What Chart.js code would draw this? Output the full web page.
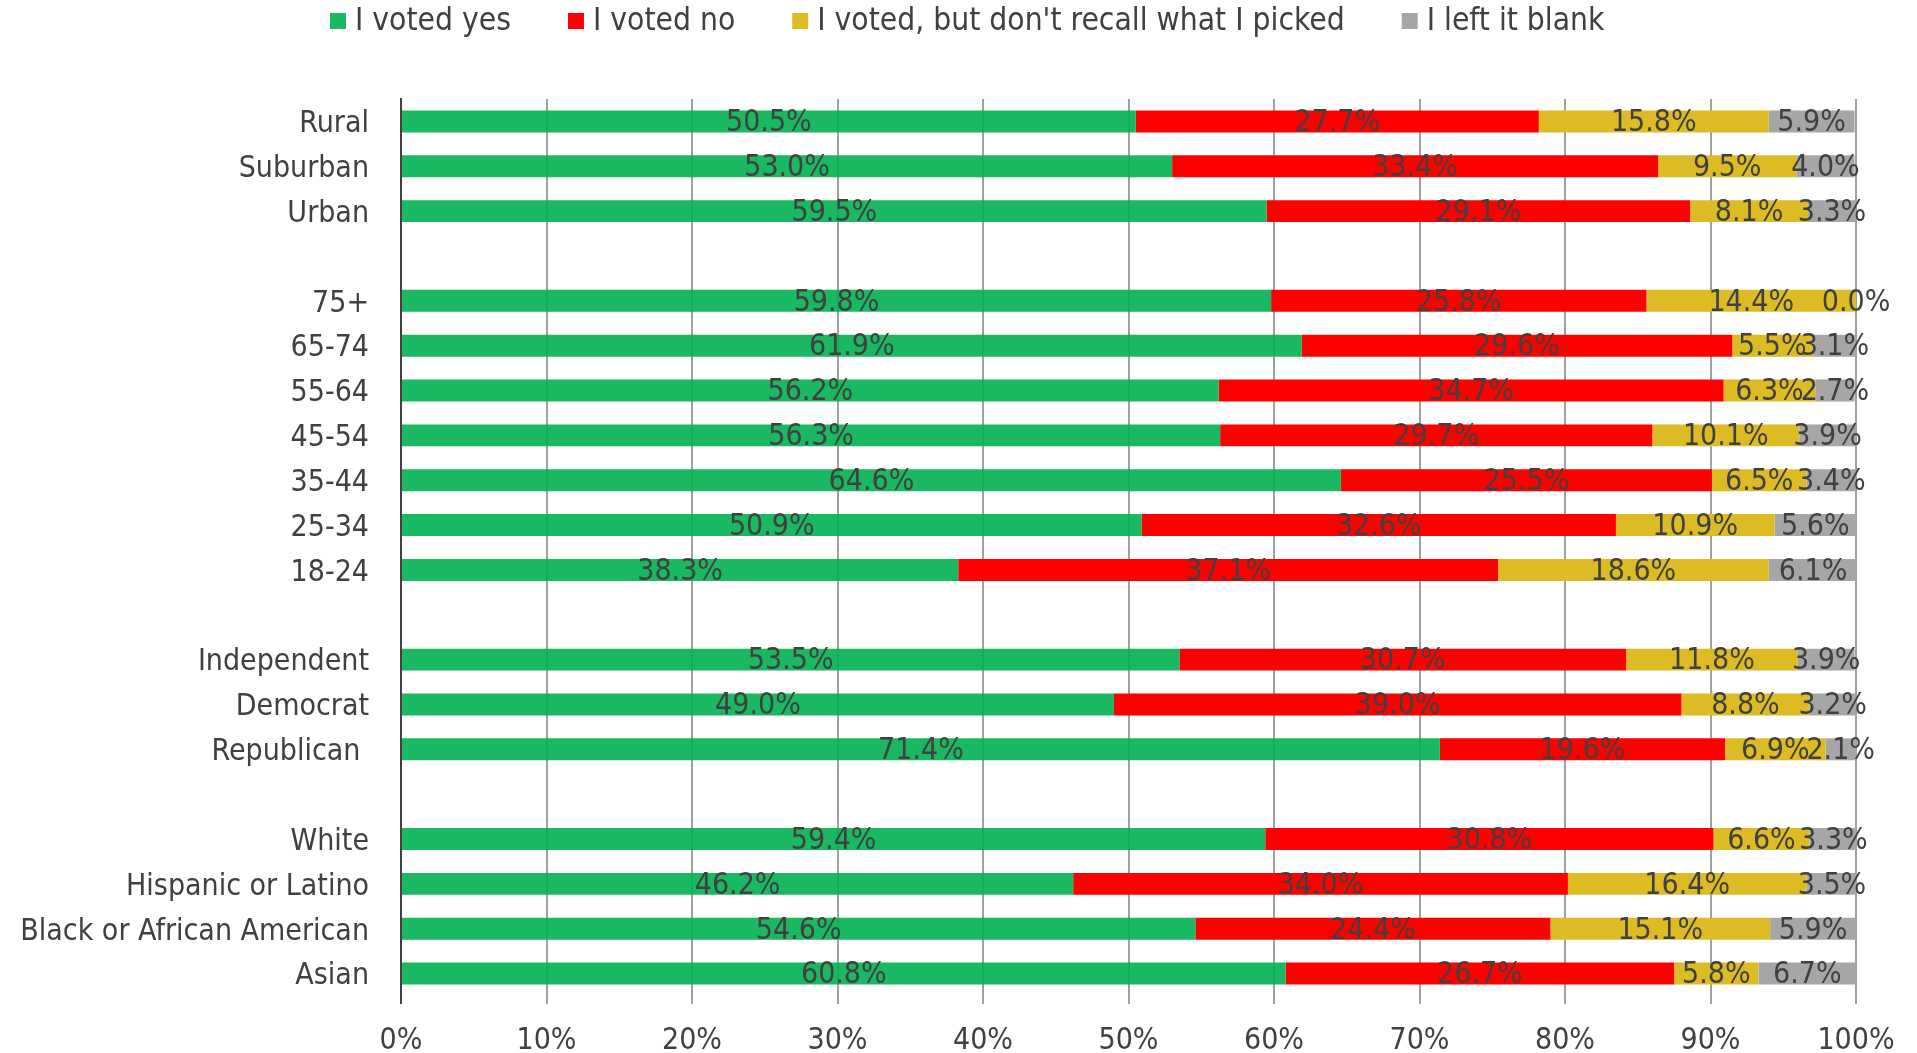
<!DOCTYPE html>
<html>
  <head>
    <meta charset="utf-8" />
    <script src="https://cdn.jsdelivr.net/npm/chart.js@4.4.1/dist/chart.umd.min.js"></script>
    <style>
      html, body { margin: 0; padding: 0; background: white; }
      #wrap { width: 1917px; height: 1053px; }
    </style>
  </head>
  <body>
    <div id="wrap"><canvas id="chart"></canvas></div>
    <script>
      // rows top to bottom, "" rows are the gaps between groups
      const categories = [
        "Rural", "Suburban", "Urban", "",
        "75+", "65-74", "55-64", "45-54", "35-44", "25-34", "18-24", "",
        "Independent", "Democrat", "Republican ", "",
        "White", "Hispanic or Latino", "Black or African American", "Asian"
      ];
      const votedYes = [50.5, 53.0, 59.5, null, 59.8, 61.9, 56.2, 56.3, 64.6, 50.9, 38.3, null, 53.5, 49.0, 71.4, null, 59.4, 46.2, 54.6, 60.8];
      const votedNo = [27.7, 33.4, 29.1, null, 25.8, 29.6, 34.7, 29.7, 25.5, 32.6, 37.1, null, 30.7, 39.0, 19.6, null, 30.8, 34.0, 24.4, 26.7];
      const dontRecall = [15.8, 9.5, 8.1, null, 14.4, 5.5, 6.3, 10.1, 6.5, 10.9, 18.6, null, 11.8, 8.8, 6.9, null, 6.6, 16.4, 15.1, 5.8];
      const leftBlank = [5.9, 4.0, 3.3, null, 0.0, 3.1, 2.7, 3.9, 3.4, 5.6, 6.1, null, 3.9, 3.2, 2.1, null, 3.3, 3.5, 5.9, 6.7];
      const seriesNames = ["I voted yes", "I voted no", "I voted, but don't recall what I picked", "I left it blank"];
      const xTicks = [0, 10, 20, 30, 40, 50, 60, 70, 80, 90, 100];

      const FONT = "'DejaVu Sans Condensed', 'DejaVu Sans', sans-serif";
      const TEXT = "#404040";
      const colors = ["rgba(0,176,80,0.9)", "#ff0000", "#dcbb24", "#a6a6a6"];

      // percent labels in the middle of each segment
      const segLabels = {
        id: "segLabels",
        afterDatasetsDraw(chart) {
          const ctx = chart.ctx;
          ctx.save();
          ctx.font = "30px " + FONT;
          ctx.fillStyle = TEXT;
          ctx.textAlign = "center";
          ctx.textBaseline = "middle";
          chart.data.datasets.forEach((ds, di) => {
            chart.getDatasetMeta(di).data.forEach((bar, i) => {
              const v = ds.data[i];
              if (v === null || v === undefined) return;
              ctx.fillText(v.toFixed(1) + "%", (bar.x + bar.base) / 2, bar.y + 2);
            });
          });
          ctx.restore();
        }
      };

      // legend row at the top
      const topLegend = {
        id: "topLegend",
        afterDraw(chart) {
          const ctx = chart.ctx;
          ctx.save();
          ctx.font = "31.5px " + FONT;
          ctx.textBaseline = "middle";
          const box = 16, gap = 9, space = 57;
          let x = 330;
          const y = 21;
          chart.data.datasets.forEach(d => {
            ctx.fillStyle = d.backgroundColor;
            ctx.fillRect(x, y - box / 2, box, box);
            ctx.fillStyle = TEXT;
            ctx.fillText(d.label, x + box + gap, y + 1);
            x += box + gap + ctx.measureText(d.label).width + space;
          });
          ctx.restore();
        }
      };

      const allSeries = [votedYes, votedNo, dontRecall, leftBlank];

      new Chart(document.getElementById("chart"), {
        type: "bar",
        data: {
          labels: categories,
          datasets: allSeries.map((arr, i) => ({
            label: seriesNames[i],
            data: arr,
            backgroundColor: colors[i],
            borderWidth: 0,
            barPercentage: 0.49,
            categoryPercentage: 1
          }))
        },
        options: {
          indexAxis: "y",
          responsive: true,
          maintainAspectRatio: false,
          animation: false,
          layout: { padding: { top: 99, left: 10, right: 61, bottom: 0 } },
          plugins: {
            legend: { display: false },
            tooltip: { enabled: false }
          },
          scales: {
            x: {
              stacked: true,
              min: 0,
              max: 100,
              afterBuildTicks(scale) {
                scale.ticks = xTicks.map(v => ({ value: v }));
              },
              afterFit(scale) { scale.height = 57; },
              grid: {
                color: ctx => (ctx.index === 0 ? "#404040" : "#a0a0a0"),
                lineWidth: 2,
                tickLength: 8
              },
              border: { display: false },
              ticks: {
                color: TEXT,
                padding: 22,
                maxRotation: 0,
                font: { family: FONT, size: 30, lineHeight: 1 },
                callback: v => v + "%"
              }
            },
            y: {
              stacked: true,
              afterFit(scale) { scale.width = 391; },
              grid: { display: false, drawTicks: false },
              border: { display: true, color: "#404040", width: 2 },
              ticks: {
                color: TEXT,
                padding: 32,
                labelOffset: 3,
                autoSkip: false,
                font: { family: FONT, size: 30 }
              }
            }
          }
        },
        plugins: [segLabels, topLegend]
      });
    </script>
  </body>
</html>
